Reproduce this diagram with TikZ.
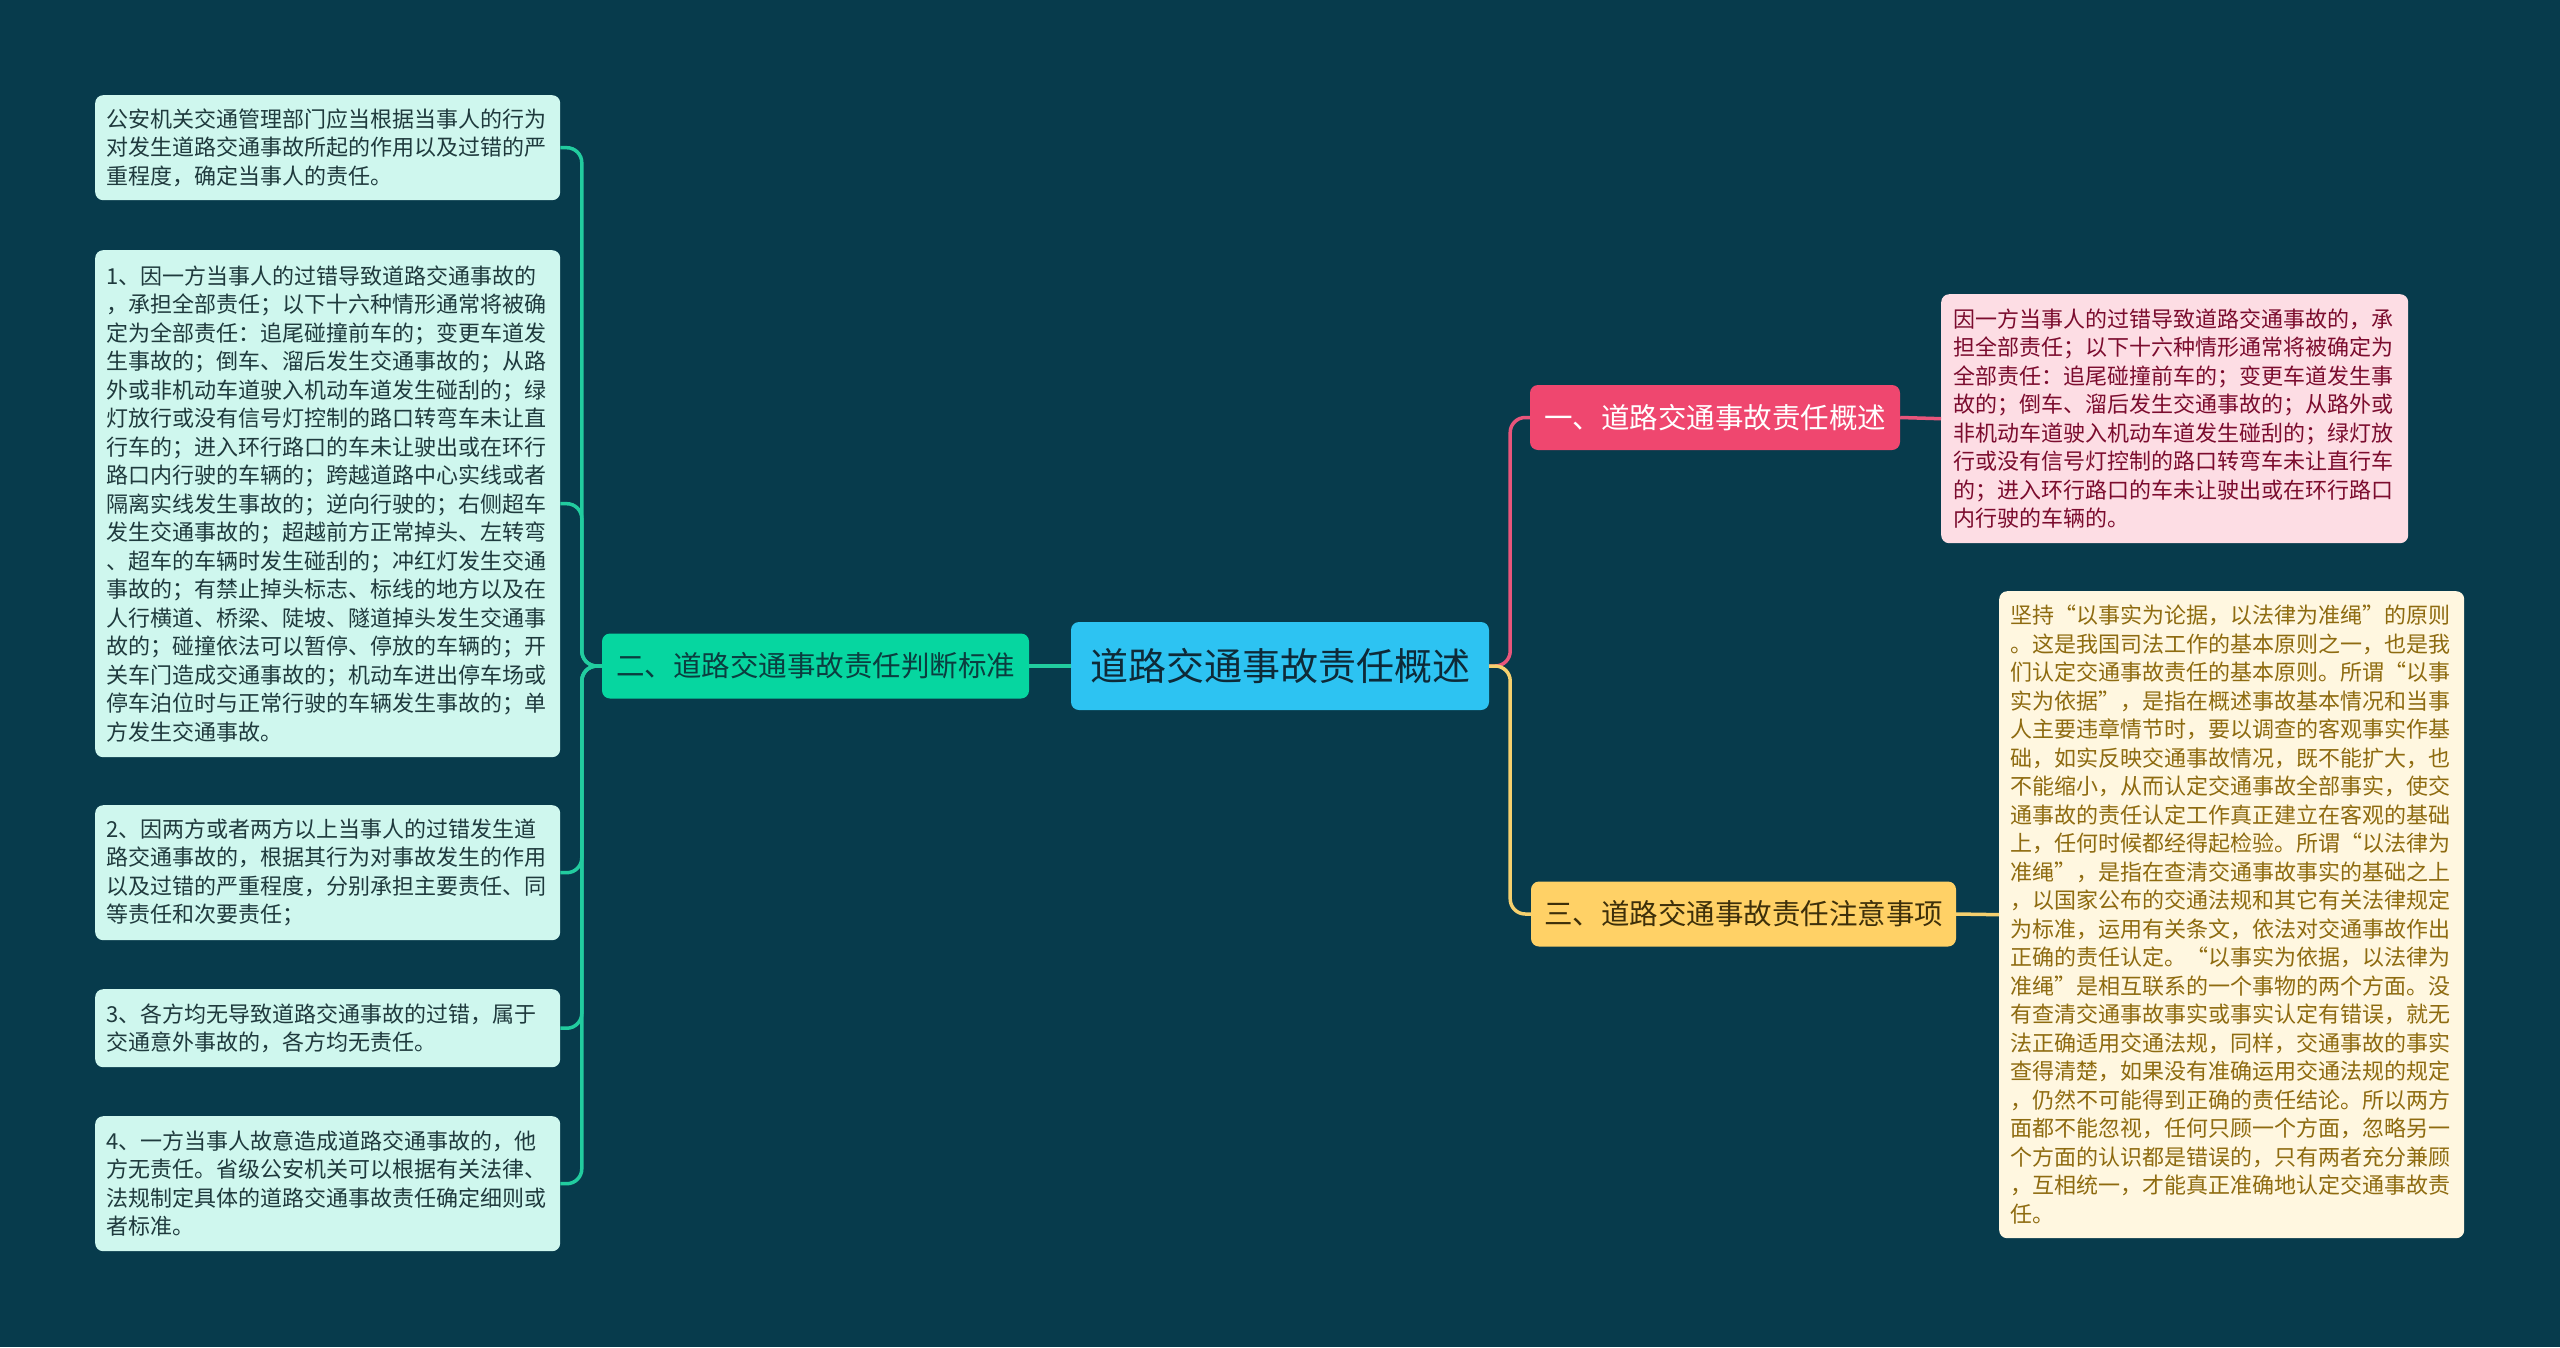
\documentclass[tikz,border=0pt]{standalone}
\usepackage{fontspec}
\newfontfamily\cjk{Noto Sans CJK SC}
\usetikzlibrary{positioning}

\definecolor{bgdark}{HTML}{073B4C}
\definecolor{rootfill}{HTML}{2DC3F2}
\definecolor{roottext}{HTML}{0E2A38}
\definecolor{greenfill}{HTML}{06D6A0}
\definecolor{greenline}{HTML}{22CC9F}
\definecolor{greentext}{HTML}{0B3D3F}
\definecolor{pinkfill}{HTML}{EF476F}
\definecolor{pinkline}{HTML}{E8557B}
\definecolor{yellowfill}{HTML}{FFD166}
\definecolor{yellowline}{HTML}{F5D06E}
\definecolor{yellowtext}{HTML}{3D2F0A}
\definecolor{mintleaf}{HTML}{CFF7EE}
\definecolor{minttext}{HTML}{1F3A3D}
\definecolor{pinkleaf}{HTML}{FDDDE4}
\definecolor{pinktext}{HTML}{7B0C2E}
\definecolor{creamleaf}{HTML}{FFF7E0}
\definecolor{creamtext}{HTML}{8E6B10}

\begin{document}
\begin{tikzpicture}[x=1pt, y=-1pt,
    rootbox/.style={fill=rootfill, text=roottext, rounded corners=8pt,
        minimum width=418pt, minimum height=88pt, inner sep=0pt,
        font=\cjk\fontsize{38}{44}\selectfont},
    branchbox/.style={rounded corners=8pt, minimum height=65pt, inner sep=0pt,
        font=\cjk\fontsize{28.5}{34}\selectfont},
    leafbox/.style={rounded corners=8pt, anchor=north west, align=left,
        text width=442pt, inner xsep=11.5pt, inner ysep=6pt,
        font=\cjk\fontsize{22}{28.5}\selectfont},
    link/.style={line width=3.5pt, rounded corners=15pt}]

    % Background
    \useasboundingbox[fill=bgdark] (0,0) rectangle (2560,1347);

    % Central topic and main branches
    \node[rootbox] (root) at (1280,666) {道路交通事故责任概述};
    \node[branchbox, fill=greenfill, text=greentext, minimum width=427pt] (judge) at (815.5,666) {二、道路交通事故责任判断标准};
    \node[branchbox, fill=pinkfill, text=white, minimum width=370pt] (overview) at (1715,417.5) {一、道路交通事故责任概述};
    \node[branchbox, fill=yellowfill, text=yellowtext, minimum width=425pt] (notice) at (1743.5,914) {三、道路交通事故责任注意事项};

    % Leaves on the left
    \node[leafbox, fill=mintleaf, text=minttext, minimum height=105pt] (rule) at (95,95) {公安机关交通管理部门应当根据当事人的行为\\
对发生道路交通事故所起的作用以及过错的严\\
重程度，确定当事人的责任。};
    \node[leafbox, fill=mintleaf, text=minttext, minimum height=507pt] (full) at (95,250) {1、因一方当事人的过错导致道路交通事故的\\
，承担全部责任；以下十六种情形通常将被确\\
定为全部责任：追尾碰撞前车的；变更车道发\\
生事故的；倒车、溜后发生交通事故的；从路\\
外或非机动车道驶入机动车道发生碰刮的；绿\\
灯放行或没有信号灯控制的路口转弯车未让直\\
行车的；进入环行路口的车未让驶出或在环行\\
路口内行驶的车辆的；跨越道路中心实线或者\\
隔离实线发生事故的；逆向行驶的；右侧超车\\
发生交通事故的；超越前方正常掉头、左转弯\\
、超车的车辆时发生碰刮的；冲红灯发生交通\\
事故的；有禁止掉头标志、标线的地方以及在\\
人行横道、桥梁、陡坡、隧道掉头发生交通事\\
故的；碰撞依法可以暂停、停放的车辆的；开\\
关车门造成交通事故的；机动车进出停车场或\\
停车泊位时与正常行驶的车辆发生事故的；单\\
方发生交通事故。};
    \node[leafbox, fill=mintleaf, text=minttext, minimum height=135pt] (shared) at (95,805) {2、因两方或者两方以上当事人的过错发生道\\
路交通事故的，根据其行为对事故发生的作用\\
以及过错的严重程度，分别承担主要责任、同\\
等责任和次要责任；};
    \node[leafbox, fill=mintleaf, text=minttext, minimum height=78pt] (none) at (95,989) {3、各方均无导致道路交通事故的过错，属于\\
交通意外事故的，各方均无责任。};
    \node[leafbox, fill=mintleaf, text=minttext, minimum height=135pt] (intent) at (95,1116) {4、一方当事人故意造成道路交通事故的，他\\
方无责任。省级公安机关可以根据有关法律、\\
法规制定具体的道路交通事故责任确定细则或\\
者标准。};

    % Leaves on the right
    \node[leafbox, fill=pinkleaf, text=pinktext, inner xsep=12.5pt, minimum height=249pt] (onesided) at (1941,294) {因一方当事人的过错导致道路交通事故的，承\\
担全部责任；以下十六种情形通常将被确定为\\
全部责任：追尾碰撞前车的；变更车道发生事\\
故的；倒车、溜后发生交通事故的；从路外或\\
非机动车道驶入机动车道发生碰刮的；绿灯放\\
行或没有信号灯控制的路口转弯车未让直行车\\
的；进入环行路口的车未让驶出或在环行路口\\
内行驶的车辆的。};
    \node[leafbox, fill=creamleaf, text=creamtext, minimum height=647pt] (principle) at (1999,591) {坚持“以事实为论据，以法律为准绳”的原则\\
。这是我国司法工作的基本原则之一，也是我\\
们认定交通事故责任的基本原则。所谓“以事\\
实为依据”，是指在概述事故基本情况和当事\\
人主要违章情节时，要以调查的客观事实作基\\
础，如实反映交通事故情况，既不能扩大，也\\
不能缩小，从而认定交通事故全部事实，使交\\
通事故的责任认定工作真正建立在客观的基础\\
上，任何时候都经得起检验。所谓“以法律为\\
准绳”，是指在查清交通事故事实的基础之上\\
，以国家公布的交通法规和其它有关法律规定\\
为标准，运用有关条文，依法对交通事故作出\\
正确的责任认定。“以事实为依据，以法律为\\
准绳”是相互联系的一个事物的两个方面。没\\
有查清交通事故事实或事实认定有错误，就无\\
法正确适用交通法规，同样，交通事故的事实\\
查得清楚，如果没有准确运用交通法规的规定\\
，仍然不可能得到正确的责任结论。所以两方\\
面都不能忽视，任何只顾一个方面，忽略另一\\
个方面的认识都是错误的，只有两者充分兼顾\\
，互相统一，才能真正准确地认定交通事故责\\
任。};

    % Bus points
    \coordinate (lbus) at ([xshift=-20pt]judge.west);
    \coordinate (rbus) at ([xshift=21pt]root.east);

    % Left connectors
    \draw[link, greenline] (root.west) -- (judge.east);
    \foreach \leaf in {rule, full, shared, none, intent}
        \draw[link, greenline] (judge.west) -- (lbus) |- (\leaf.east);

    % Right connectors
    \draw[link, pinkline] (root.east) -- (rbus) |- (overview.west);
    \draw[link, pinkline] (overview.east) -- (onesided.west);
    \draw[link, yellowline] (root.east) -- (rbus) |- (notice.west);
    \draw[link, yellowline] (notice.east) -- (principle.west);
\end{tikzpicture}
\end{document}
